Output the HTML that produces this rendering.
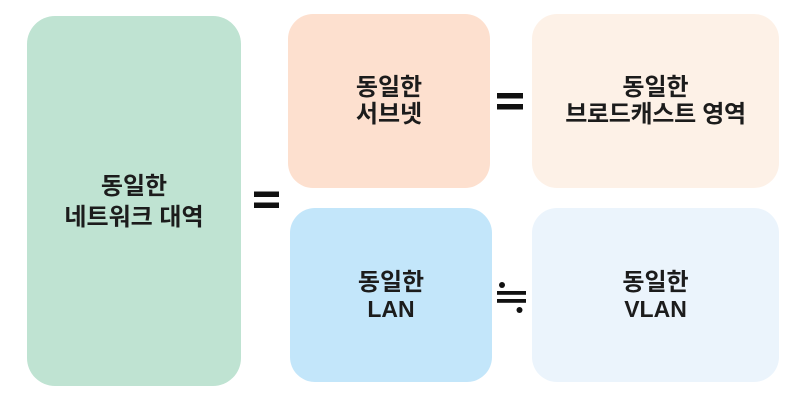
<!DOCTYPE html>
<html>
<head>
<meta charset="utf-8">
<style>
  html, body { margin:0; padding:0; background:#ffffff; }
  body { width:801px; height:404px; position:relative; overflow:hidden;
         font-family:"Liberation Sans","Noto Sans CJK KR","NanumGothic",sans-serif; }
  .t { position:absolute; height:30px; line-height:30px; text-align:center;
       font-size:24px; font-weight:700; color:#1c1c1c; white-space:nowrap; }
  .lat { font-size:23px; }
  svg { position:absolute; left:0; top:0; }
</style>
</head>
<body>
<svg width="801" height="404" viewBox="0 0 801 404">
  <rect x="27" y="16" width="214" height="370" rx="28" ry="28" fill="#bfe3d2"/>
  <rect x="288" y="14" width="202" height="174" rx="25" ry="25" fill="#fde0cf"/>
  <rect x="290" y="208" width="202" height="174" rx="25" ry="25" fill="#c3e6fa"/>
  <rect x="532" y="14" width="247" height="174" rx="25" ry="25" fill="#fdf1e7"/>
  <rect x="532" y="208" width="247" height="174" rx="25" ry="25" fill="#ebf4fc"/>
  <!-- equals 1 -->
  <rect x="254" y="191.5" width="25" height="5.5" fill="#111"/>
  <rect x="254" y="202.5" width="25" height="5.5" fill="#111"/>
  <!-- equals 2 -->
  <rect x="497" y="93" width="26" height="5.5" fill="#111"/>
  <rect x="497" y="104" width="26" height="5.5" fill="#111"/>
  <!-- approx equal -->
  <rect x="497" y="291" width="29" height="3.8" fill="#111"/>
  <rect x="497" y="299" width="29" height="3.8" fill="#111"/>
  <circle cx="502" cy="285" r="3" fill="#111"/>
  <circle cx="519.5" cy="310" r="3" fill="#111"/>
</svg>

<div class="t" style="left:27px;width:214px;top:172px;">동일한</div>
<div class="t" style="left:27px;width:214px;top:203px;">네트워크 대역</div>

<div class="t" style="left:288px;width:202px;top:73px;">동일한</div>
<div class="t" style="left:288px;width:202px;top:100px;">서브넷</div>

<div class="t" style="left:532px;width:247px;top:73px;">동일한</div>
<div class="t" style="left:532px;width:247px;top:100px;letter-spacing:-0.3px;">브로드캐스트 영역</div>

<div class="t" style="left:290px;width:202px;top:268px;">동일한</div>
<div class="t lat" style="left:290px;width:202px;top:294px;">LAN</div>

<div class="t" style="left:532px;width:247px;top:268px;">동일한</div>
<div class="t lat" style="left:532px;width:247px;top:294px;">VLAN</div>
</body>
</html>
